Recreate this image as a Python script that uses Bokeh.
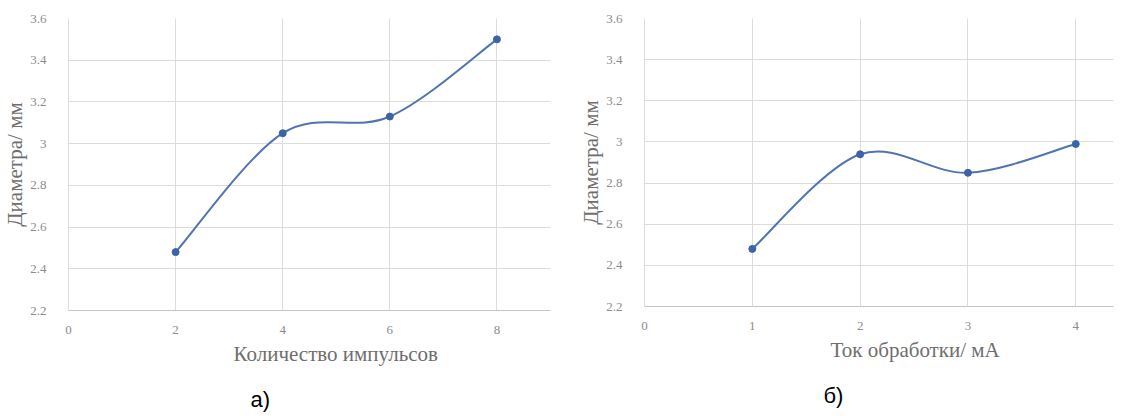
from bokeh.plotting import figure
from bokeh.layouts import row
from bokeh.models import FixedTicker, Title
from bokeh.embed import file_html
from bokeh.resources import INLINE

# ---- data ----
pulses = [2, 4, 6, 8]
diam_pulses = [2.48, 3.05, 3.13, 3.50]
current = [1, 2, 3, 4]
diam_current = [2.48, 2.94, 2.85, 2.99]

y_ticks = [2.2, 2.4, 2.6, 2.8, 3.0, 3.2, 3.4, 3.6]
y_tick_labels = ["2.2", "2.4", "2.6", "2.8", "3", "3.2", "3.4", "3.6"]
x_ticks_a = [0, 2, 4, 6, 8]
x_ticks_b = [0, 1, 2, 3, 4]

y_label = "Диаметра/ мм"
x_label_a = "Количество импульсов"
x_label_b = "Ток обработки/ мА"
caption_a = "а)"
caption_b = "б)"

LINE = "#5073b2"
MARK = "#3d62a6"
GRID = "#dcdcdc"
TICK = "#8c8c8c"
LABEL = "#6e6e6e"


def smooth(xs, ys):
    """Catmull-Rom style bezier control points (Excel-like smoothing)."""
    n = len(xs)
    px = [xs[0]] + list(xs) + [xs[-1]]
    py = [ys[0]] + list(ys) + [ys[-1]]
    x0, y0, x1, y1, cx0, cy0, cx1, cy1 = [], [], [], [], [], [], [], []
    for i in range(1, n):
        x0.append(px[i]); y0.append(py[i])
        x1.append(px[i + 1]); y1.append(py[i + 1])
        cx0.append(px[i] + (px[i + 1] - px[i - 1]) / 6)
        cy0.append(py[i] + (py[i + 1] - py[i - 1]) / 6)
        cx1.append(px[i + 1] - (px[i + 2] - px[i]) / 6)
        cy1.append(py[i + 1] - (py[i + 2] - py[i]) / 6)
    return dict(x0=x0, y0=y0, x1=x1, y1=y1, cx0=cx0, cy0=cy0, cx1=cx1, cy1=cy1)


def make(xs, ys, xmax, xticks, xlabel, caption, fw, fh, left, right, top,
         lab_off, cap_off):
    p = figure(title=None, frame_width=fw, frame_height=fh,
               x_range=(0, xmax), y_range=(2.2, 3.6),
               output_backend="svg", toolbar_location=None,
               min_border_left=left, min_border_right=right,
               min_border_top=top, min_border_bottom=10)
    p.outline_line_color = None
    p.background_fill_color = "white"
    p.border_fill_color = "white"

    p.xaxis.ticker = FixedTicker(ticks=xticks)
    p.yaxis.ticker = FixedTicker(ticks=y_ticks)
    p.yaxis.major_label_overrides = {t: l for t, l in zip(y_ticks, y_tick_labels)}
    for ax in (p.xaxis, p.yaxis):
        ax.major_tick_line_color = None
        ax.minor_tick_line_color = None
        ax.major_label_text_font = "Liberation Serif"
        ax.major_label_text_font_size = "13px"
        ax.major_label_text_color = TICK
    p.xaxis.axis_line_color = "#c4c4c4"
    p.yaxis.axis_line_color = GRID
    p.xaxis.major_label_standoff = 9
    p.yaxis.major_label_standoff = 16

    p.yaxis.axis_label = y_label
    p.yaxis.axis_label_text_font = "Liberation Serif"
    p.yaxis.axis_label_text_font_size = "21px"
    p.yaxis.axis_label_text_font_style = "normal"
    p.yaxis.axis_label_text_color = LABEL
    p.yaxis.axis_label_standoff = 0

    p.xgrid.grid_line_color = GRID
    p.ygrid.grid_line_color = GRID

    t1 = Title(text=xlabel, align="left", offset=lab_off,
               text_font="Liberation Serif", text_font_size="21px",
               text_font_style="normal", text_color=LABEL, standoff=7)
    p.add_layout(t1, "below")
    t2 = Title(text=caption, align="left", offset=cap_off,
               text_font="Liberation Sans", text_font_size="22px",
               text_font_style="normal", text_color="black", standoff=31)
    p.add_layout(t2, "below")

    p.bezier(source=smooth(xs, ys), x0="x0", y0="y0", x1="x1", y1="y1",
             cx0="cx0", cy0="cy0", cx1="cx1", cy1="cy1",
             line_color=LINE, line_width=2)
    p.scatter(xs, ys, size=7, fill_color=MARK, line_color=MARK)
    return p


p1 = make(pulses, diam_pulses, 9.0, x_ticks_a, x_label_a, caption_a,
          fw=482, fh=292, left=64, right=22, top=18, lab_off=165, cap_off=182)
p2 = make(current, diam_current, 4.35, x_ticks_b, x_label_b, caption_b,
          fw=469, fh=288, left=72, right=2, top=15, lab_off=186, cap_off=179)

layout = row(p1, p2)
open("out.html", "w").write(file_html(layout, INLINE))
